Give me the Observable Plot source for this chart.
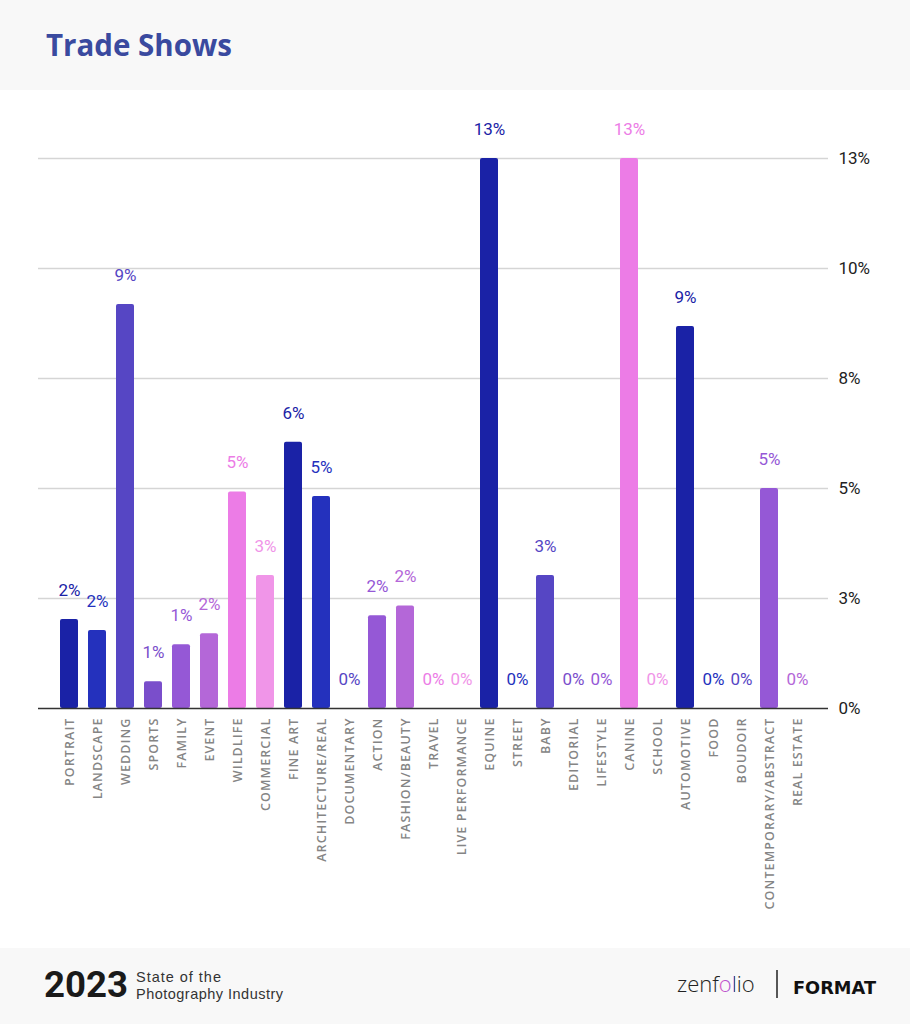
<!DOCTYPE html>
<html>
<head>
<meta charset="utf-8">
<script src="https://cdn.jsdelivr.net/npm/d3@7"></script>
<script src="https://cdn.jsdelivr.net/npm/@observablehq/plot@0.6"></script>
<style>
  html, body { margin: 0; padding: 0; background: #ffffff; }
  body { width: 910px; height: 1024px; position: relative; overflow: hidden; }
  #header { position: absolute; left: 0; top: 0; }
  #chart { position: absolute; left: 0; top: 90px; }
  #footer { position: absolute; left: 0; top: 948px; }
  #chart g[aria-label="x-axis tick label"] text { letter-spacing: 1.1px; }
</style>
</head>
<body>
<svg id="header" width="910" height="90" xmlns="http://www.w3.org/2000/svg">
  <rect x="0" y="0" width="910" height="90" fill="#f8f8f8"></rect>
  <text x="46" y="56" font-family="'Open Sans', sans-serif" font-weight="700" font-size="29.5" fill="#3a4a9f">Trade Shows</text>
</svg>
<div id="chart"></div>
<svg id="footer" width="910" height="76" xmlns="http://www.w3.org/2000/svg">
  <defs>
    <linearGradient id="zgrad" gradientUnits="userSpaceOnUse" x1="677" y1="0" x2="759" y2="0">
      <stop offset="0" stop-color="#222"></stop>
      <stop offset="0.525" stop-color="#222"></stop>
      <stop offset="0.525" stop-color="#d04fc4"></stop>
      <stop offset="0.69" stop-color="#9a4fd6"></stop>
      <stop offset="0.69" stop-color="#222"></stop>
      <stop offset="1" stop-color="#222"></stop>
    </linearGradient>
  </defs>
  <rect x="0" y="0" width="910" height="76" fill="#f8f8f8"></rect>
  <text x="44" y="49" font-family="Roboto, sans-serif" font-weight="700" font-size="36" fill="#1a1a1a" textLength="84" lengthAdjust="spacingAndGlyphs">2023</text>
  <text x="136" y="33.8" font-family="'Liberation Sans', sans-serif" font-size="14.5" fill="#333" textLength="85" lengthAdjust="spacing">State of the</text>
  <text x="136" y="50.5" font-family="'Liberation Sans', sans-serif" font-size="14.5" fill="#333" textLength="147" lengthAdjust="spacing">Photography Industry</text>
  <text x="677" y="44" font-family="'Open Sans', sans-serif" font-weight="300" font-size="22" fill="url(#zgrad)">zenfolio</text>
  <line x1="777" y1="22" x2="777" y2="50" stroke="#222" stroke-width="1.5"></line>
  <text x="793" y="45.5" font-family="'DejaVu Sans', sans-serif" font-weight="900" font-size="17" fill="#111" textLength="83" lengthAdjust="spacingAndGlyphs">FORMAT</text>
</svg>
<script>
// ---- data ----
const categories = [
  "PORTRAIT", "LANDSCAPE", "WEDDING", "SPORTS", "FAMILY", "EVENT", "WILDLIFE",
  "COMMERCIAL", "FINE ART", "ARCHITECTURE/REAL", "DOCUMENTARY", "ACTION",
  "FASHION/BEAUTY", "TRAVEL", "LIVE PERFORMANCE", "EQUINE", "STREET", "BABY",
  "EDITORIAL", "LIFESTYLE", "CANINE", "SCHOOL", "AUTOMOTIVE", "FOOD",
  "BOUDOIR", "CONTEMPORARY/ABSTRACT", "REAL ESTATE"
];
const values = [
  2.02, 1.77, 9.18, 0.61, 1.45, 1.70, 4.92,
  3.02, 6.05, 4.82, 0, 2.11,
  2.33, 0, 0, 12.5, 0, 3.02,
  0, 0, 12.5, 0, 8.68, 0,
  0, 5.0, 0
];
const valueLabels = [
  "2%", "2%", "9%", "1%", "1%", "2%", "5%",
  "3%", "6%", "5%", "0%", "2%",
  "2%", "0%", "0%", "13%", "0%", "3%",
  "0%", "0%", "13%", "0%", "9%", "0%",
  "0%", "5%", "0%"
];
const yTicks = [0, 2.5, 5, 7.5, 10, 12.5];
const yTickLabels = ["0%", "3%", "5%", "8%", "10%", "13%"];

// ---- colours ----
const c = ["#1a22a6", "#2431bd", "#5646c4", "#7a4ecb", "#9558d6", "#b467d8", "#ec7ce6", "#f095e8"];
const barColors = [
  c[0], c[1], c[2], c[3], c[4], c[5], c[6],
  c[7], c[0], c[1], c[2], c[4],
  c[5], c[6], c[7], c[0], c[1], c[2],
  c[3], c[4], c[6], c[7], c[0], c[1],
  c[2], c[4], c[5]
];

const data = categories.map((cat, i) => ({cat, value: values[i], label: valueLabels[i], color: barColors[i]}));
const tickLabelMap = new Map(yTicks.map((t, i) => [t, yTickLabels[i]]));

const chart = Plot.plot({
  width: 910,
  height: 858,
  marginTop: 68,
  marginBottom: 240,
  marginLeft: 38,
  marginRight: 82,
  style: {fontFamily: "Roboto, sans-serif", background: "transparent"},
  x: {domain: categories, paddingInner: 0.37, paddingOuter: 0.185, insetLeft: 4, insetRight: 4, label: null},
  y: {domain: [0, 12.5], label: null},
  marks: [
    Plot.ruleY(yTicks.filter(d => d > 0), {stroke: "#d5d5d5", strokeWidth: 1.5}),
    Plot.barY(data, {x: "cat", y: "value", fill: "color", rx: 2}),
    Plot.ruleY([0], {stroke: "#333", strokeWidth: 1.5}),
    Plot.text(data, {x: "cat", y: "value", text: "label", fill: "color", dy: -29, fontSize: 17, fontFamily: "Roboto, sans-serif"}),
    Plot.axisY({anchor: "right", ticks: yTicks, tickSize: 0, tickPadding: 10, tickFormat: d => tickLabelMap.get(d), fontSize: 17, fill: "#222", label: null}),
    Plot.axisX({tickRotate: -90, tickSize: 0, tickPadding: 9, fontSize: 12.5, fontWeight: 600, fill: "#858585", fontFamily: "'Open Sans', sans-serif", label: null})
  ]
});
document.getElementById("chart").appendChild(chart);
</script>
</body>
</html>
